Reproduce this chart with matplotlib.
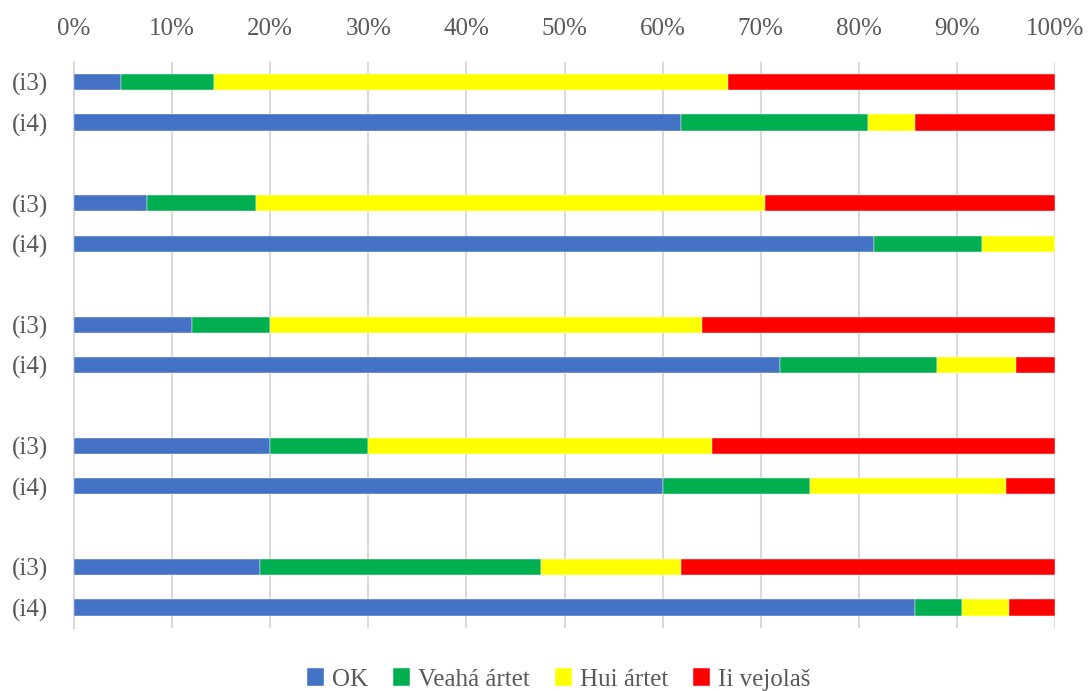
import numpy as np
import matplotlib.pyplot as plt

# rader (i3 / i4 for hver gruppe), prosent
rows = ['(i3)', '(i4)', '(i3)', '(i4)', '(i3)', '(i4)', '(i3)', '(i4)', '(i3)', '(i4)']
ok = [4.8, 61.9, 7.4, 81.5, 12.0, 72.0, 20.0, 60.0, 19.0, 85.7]
veaha = [9.5, 19.0, 11.1, 11.1, 8.0, 16.0, 10.0, 15.0, 28.6, 4.8]
hui = [52.4, 4.8, 51.9, 7.4, 44.0, 8.0, 35.0, 20.0, 14.3, 4.8]
ii = [33.3, 14.3, 29.6, 0.0, 36.0, 4.0, 35.0, 5.0, 38.1, 4.7]

series = ['OK', 'Veahá ártet', 'Hui ártet', 'Ii vejolaš']
colors = ['#4472C4', '#00B050', '#FFFF00', '#FF0000']

plt.rcParams['font.family'] = ['Liberation Serif', 'DejaVu Serif']
txt = '#595959'

# posisjoner: to rader per gruppe, en tom rad mellom gruppene
pos = []
for g in range(5):
    pos += [g * 3, g * 3 + 1]
pos = np.array(pos)

fig = plt.figure(figsize=(10.89, 6.91), dpi=100)
ax = fig.add_axes([0.068, 0.0915, 0.9008, 0.819])

left = np.zeros(len(rows))
for vals, name, c in zip([ok, veaha, hui, ii], series, colors):
    ax.barh(pos, vals, left=left, height=0.4, color=c, label=name,
            edgecolor='white', linewidth=0.3, zorder=3)
    left += np.array(vals)

ax.set_xlim(0, 100)
ax.set_ylim(13.5, -0.5)
ax.set_yticks(pos)
ax.set_yticklabels(rows)
ax.set_xticks(np.arange(0, 101, 10))
ax.set_xticklabels([f'{v}%' for v in range(0, 101, 10)])
ax.xaxis.tick_top()
ax.tick_params(axis='x', length=0, pad=15.5, labelsize=18, colors=txt)
ax.tick_params(axis='y', length=0, pad=19, labelsize=18, colors=txt)
ax.grid(axis='x', color='#d9d9d9', linewidth=1.5, zorder=0)
for s in ['top', 'right', 'bottom']:
    ax.spines[s].set_visible(False)
ax.spines['left'].set_color('#d9d9d9')
ax.spines['left'].set_linewidth(1.5)

leg = fig.legend(loc='center', bbox_to_anchor=(0.513, 0.017), ncol=4, frameon=False,
                 fontsize=18, handlelength=0.7, handleheight=0.7,
                 handletextpad=0.3, columnspacing=1.0)
for t in leg.get_texts():
    t.set_color(txt)

fig.savefig('out.png', dpi=100)
